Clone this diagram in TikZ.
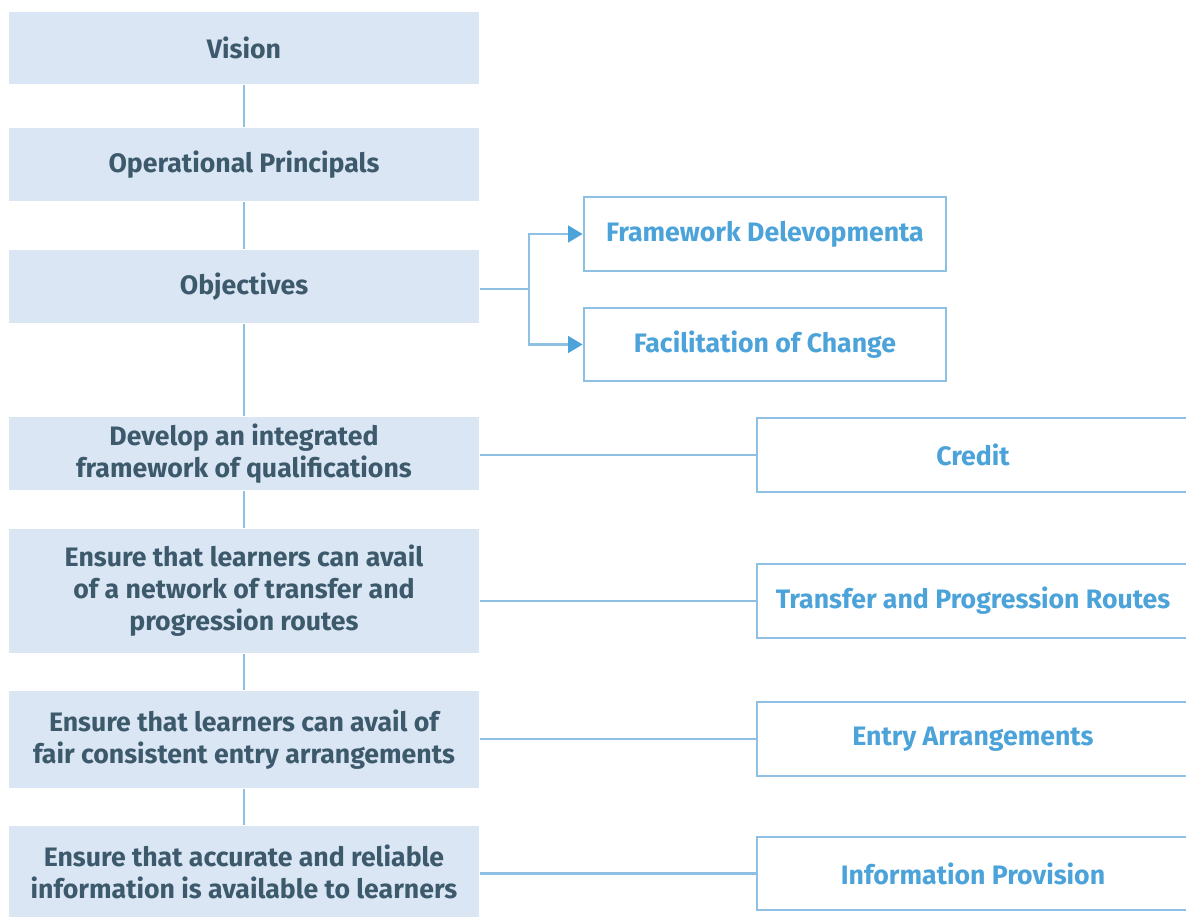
\documentclass[tikz,border=0pt]{standalone}
\usepackage{fontspec}
\setmainfont{Fira Sans}
\usetikzlibrary{arrows.meta}

\definecolor{boxfill}{HTML}{DAE6F3}
\definecolor{darktext}{HTML}{3D5A6C}
\definecolor{linkblue}{HTML}{8EC0E4}
\definecolor{bluetext}{HTML}{4BA3DA}

\tikzset{every picture/.style={line width=2pt}}
\tikzset{
  leftbox/.style={fill=boxfill, text=darktext, minimum width=352.5pt, align=center,
    inner sep=0pt, font=\fontsize{20}{24}\selectfont\bfseries},
  rightbox/.style={draw=linkblue, fill=white, text=bluetext, align=center,
    inner sep=0pt, font=\fontsize{20}{24}\selectfont\bfseries},
  link/.style={draw=linkblue},
  tip/.style={-{Triangle[length=11pt,width=12.5pt,color=bluetext]}},
}

\begin{document}
\begin{tikzpicture}[x=0.75pt,y=0.75pt,yscale=-1,xscale=1]
\useasboundingbox (0,0) rectangle (1186,918);

% left column
\node (vision) [leftbox, minimum height=54pt] at (244,48) {Vision};
\node (ops) [leftbox, minimum height=54.75pt] at (244,164.5) {Operational Principals};
\node (obj) [leftbox, minimum height=54.75pt] at (244,286.5) {Objectives};
\node (dev) [leftbox, minimum height=54.75pt] at (244,453.5) {Develop an integrated\\framework of qualifications};
\node (net) [leftbox, minimum height=93pt] at (244,591) {Ensure that learners can avail\\of a network of transfer and\\progression routes};
\node (fair) [leftbox, minimum height=72.75pt] at (244,739.5) {Ensure that learners can avail of\\fair consistent entry arrangements};
\node (acc) [leftbox, minimum height=68.25pt] at (244,871.5) {Ensure that accurate and reliable\\information is available to learners};

% objectives branch
\node (fw) [rightbox, minimum width=271.5pt, minimum height=55.5pt] at (765,234) {Framework Delevopmenta};
\node (fc) [rightbox, minimum width=271.5pt, minimum height=54.75pt] at (765,344.5) {Facilitation of Change};

% right column
\node (credit) [rightbox, minimum width=324pt, minimum height=55.5pt] at (973,455) {Credit};
\node (routes) [rightbox, minimum width=324pt, minimum height=55.5pt] at (973,601) {Transfer and Progression Routes};
\node (entry) [rightbox, minimum width=324pt, minimum height=55.5pt] at (973,739) {Entry Arrangements};
\node (info) [rightbox, minimum width=324pt, minimum height=54.75pt] at (973,873.5) {Information Provision};

% spine
\draw [link] (vision) -- (ops);
\draw [link] (ops) -- (obj);
\draw [link] (obj) -- (dev);
\draw [link] (dev) -- (net);
\draw [link] (net) -- (fair);
\draw [link] (fair) -- (acc);

% branch with arrows
\coordinate (br) at (529,289);
\draw [link] (obj.east |- br) -- (br);
\draw [link, tip] (br) |- (fw.west);
\draw [link, tip] (br) |- (fc.west);

% links to right column
\draw [link] (dev.east |- credit.west) -- (credit.west);
\draw [link] (net.east |- routes.west) -- (routes.west);
\draw [link] (fair.east |- entry.west) -- (entry.west);
\draw [link] (acc.east |- info.west) -- (info.west);

\end{tikzpicture}
\end{document}
